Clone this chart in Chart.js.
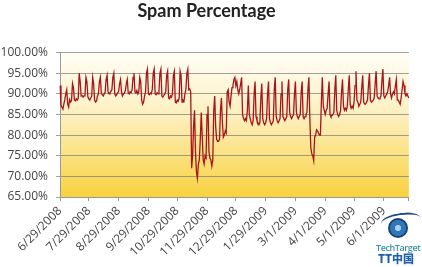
<!DOCTYPE html>
<html>
<head>
<meta charset="utf-8">
<script src="https://cdn.jsdelivr.net/npm/chart.js@4.4.0/dist/chart.umd.min.js"></script>
<style>
  html, body { margin: 0; padding: 0; background: #fff; }
  #wrap { position: relative; width: 422px; height: 267px; }
  #eye {
    position: absolute; left: 388px; top: 218px; width: 20px; height: 20px; border-radius: 50%;
    background: radial-gradient(circle, #a8d0ee 0 20%, #2f78b8 23% 55%, #173f72 58%);
  }
  #swoosh {
    position: absolute; left: 381px; top: 213px; width: 40px; height: 14px;
    border-top: 2px solid #1d4a80; border-radius: 50% 50% 0 0; transform: rotate(-8deg);
  }
  #tt1 { position: absolute; left: 376px; top: 241px; font: 600 9px 'Open Sans', sans-serif; color: #3a93a8; letter-spacing: -0.4px; }
  #tt2 { position: absolute; left: 378px; top: 252px; font: 800 11px 'Noto Sans CJK SC', 'Open Sans', sans-serif; color: #2060b0; line-height: 12px; }
</style>
</head>
<body>
<div id="wrap">
  <canvas id="spamChart" width="422" height="267"></canvas>
  <div id="swoosh"></div>
  <div id="eye"></div>
  <div id="tt1">TechTarget</div>
  <div id="tt2">TT中国</div>
</div>
<script>
// daily series starts on this date (Sunday)
const startDate = [2008, 5, 29];

// labelled dates on the x axis
const tickLabels = ['6/29/2008', '7/29/2008', '8/29/2008', '9/29/2008', '10/29/2008', '11/29/2008',
    '12/29/2008', '1/29/2009', '3/1/2009', '4/1/2009', '5/1/2009', '6/1/2009'];

const yTicks = [65, 70, 75, 80, 85, 90, 95, 100];

// spam share of mail, %, one row per week (Sun..Sat)
const spamPct = [
    92, 87.2, 86.8, 86.3, 87.5, 88.6, 90,
    91, 87.5, 86.8, 88.6, 88.0, 88.4, 92.5,
    91.5, 88.5, 88.3, 88.8, 88.5, 89.0, 95,
    93, 89.5, 89.6, 89.2, 89.5, 89.8, 94,
    93, 89.3, 88.8, 88.5, 89.0, 89.5, 94,
    92.5, 88.5, 88.0, 88.3, 89.5, 90.0, 93,
    94, 90.2, 89.8, 89.5, 90.0, 90.4, 93.5,
    94.5, 90.5, 90.0, 90.2, 90.6, 91.0, 94,
    95, 90.0, 89.5, 89.8, 90.3, 90.5, 92.5,
    93.5, 90.5, 89.5, 90.0, 90.2, 90.8, 92.5,
    93.5, 90.2, 90.0, 90.5, 90.3, 91.0, 94,
    95, 90.5, 90.2, 90.8, 90.0, 90.5, 94,
    93, 88.5, 87.5, 88.0, 89.5, 90.5, 95,
    96, 90.0, 89.8, 90.2, 90.0, 91.0, 95,
    96, 90.0, 89.8, 90.3, 90.0, 90.8, 95,
    96, 89.5, 89.2, 89.6, 90.0, 90.5, 94.5,
    95.5, 89.0, 88.8, 89.5, 89.2, 90.0, 94.5,
    95.5, 88.0, 87.8, 88.5, 88.2, 89.0, 95.5,
    94.5, 88.0, 88.5, 88.2, 90.0, 91.0, 95,
    96, 91, 91.2, 90.5, 72, 75, 82,
    86, 76, 71, 69.5, 73, 74, 79,
    85.5, 80, 74, 73, 75, 74.5, 85,
    87, 76, 74.5, 74, 72.5, 74, 86,
    89.5, 82, 79, 78.5, 78.5, 79, 86,
    89, 83, 79.5, 80, 81, 80.5, 90.5,
    91, 88, 87, 89.5, 91.5, 92, 93.5,
    94, 92, 93, 91, 90, 91, 92.5,
    94, 85, 84, 83.5, 84, 83.5, 86,
    92, 85, 84, 83, 82.5, 83.5, 90,
    93, 84.5, 83.5, 83, 82.5, 83, 89,
    92.5, 84, 83, 82.5, 83, 84, 90,
    93, 84, 83, 82.5, 83, 83.5, 91,
    94, 84.5, 83.5, 83, 83.5, 84, 90,
    93, 84.5, 84, 83.5, 84, 84.5, 91,
    93.5, 85.5, 84.5, 84, 84.5, 85, 90,
    93, 85.5, 84.5, 84, 84.5, 85, 90.5,
    93, 84.5, 84, 84.5, 85, 85.5, 91,
    94, 84, 77, 75.5, 75, 73.8, 79.5,
    80, 81.3, 81, 80.5, 80, 80, 88,
    94, 87, 86, 85, 86, 86.5, 90,
    93, 85, 84.5, 84.7, 85, 85.5, 91,
    94.5, 86, 85, 84.5, 85, 86, 90.5,
    93.5, 87, 86, 86.5, 86, 87, 91,
    94.5, 87.5, 86.5, 87, 86.5, 88, 92,
    95.5, 88.5, 88, 87, 87.5, 88, 91.5,
    94.5, 88, 87.5, 87.5, 88, 88.5, 92,
    95, 88.5, 88, 88.2, 88.5, 89, 92.5,
    95.5, 89.5, 89, 88.8, 89, 89.5, 93,
    96, 89.5, 89, 89.5, 90, 90.5, 92,
    94, 90, 89, 90, 90.5, 90, 92,
    93.5, 88.5, 88.5, 88, 87.5, 89, 91,
    93, 92, 90, 89.5, 90, 89.5, 89
];

// one M/D/YYYY label per day
const dayLabels = spamPct.map((v, i) => {
    const d = new Date(startDate[0], startDate[1], startDate[2] + i);
    return (d.getMonth() + 1) + '/' + d.getDate() + '/' + d.getFullYear();
});

const plotBackground = {
    id: 'plotBackground',
    beforeDraw(chart) {
        const { ctx, chartArea: a } = chart;
        const g = ctx.createLinearGradient(0, a.top, 0, a.bottom);
        g.addColorStop(0, '#fffef6');
        g.addColorStop(0.45, '#fdefbc');
        g.addColorStop(1, '#f8d23e');
        ctx.save();
        ctx.fillStyle = g;
        ctx.fillRect(a.left, a.top, a.right - a.left, a.bottom - a.top);
        ctx.restore();
    }
};

const axisFont = { family: "'Open Sans', sans-serif", size: 12 };

new Chart(document.getElementById('spamChart'), {
    type: 'line',
    data: {
        labels: dayLabels,
        datasets: [{
            data: spamPct,
            borderColor: '#a8141c',
            borderWidth: 1.3,
            pointRadius: 0,
            tension: 0
        }]
    },
    options: {
        responsive: false,
        animation: false,
        devicePixelRatio: 1,
        layout: { padding: { left: 0, right: 9, top: 0, bottom: 0 } },
        plugins: {
            legend: { display: false },
            tooltip: { enabled: false },
            title: {
                display: true,
                text: 'Spam Percentage',
                color: '#222',
                font: { family: 'Lato', size: 18, weight: 'bold' },
                padding: { top: 0, bottom: 31 }
            }
        },
        scales: {
            x: {
                afterFit: s => { s.height = 70; },
                grid: { drawOnChartArea: false, color: '#999', tickLength: 4 },
                border: { color: '#999' },
                ticks: {
                    autoSkip: false,
                    minRotation: 45,
                    maxRotation: 45,
                    color: '#444',
                    font: axisFont,
                    padding: 3,
                    callback: function (value, index) {
                        const lab = this.getLabelForValue(value);
                        if (tickLabels.includes(lab)) return lab;
                        if (index === spamPct.length - 1) return '';
                        return null;
                    }
                }
            },
            y: {
                min: yTicks[0],
                max: yTicks[yTicks.length - 1],
                afterFit: s => { s.width = 60; },
                afterBuildTicks: s => { s.ticks = yTicks.map(v => ({ value: v })); },
                grid: { color: 'rgba(120,120,120,0.7)', tickLength: 4 },
                border: { color: '#999' },
                ticks: {
                    color: '#444',
                    font: axisFont,
                    padding: 8,
                    callback: v => v.toFixed(2) + '%'
                }
            }
        }
    },
    plugins: [plotBackground]
});
</script>
</body>
</html>
